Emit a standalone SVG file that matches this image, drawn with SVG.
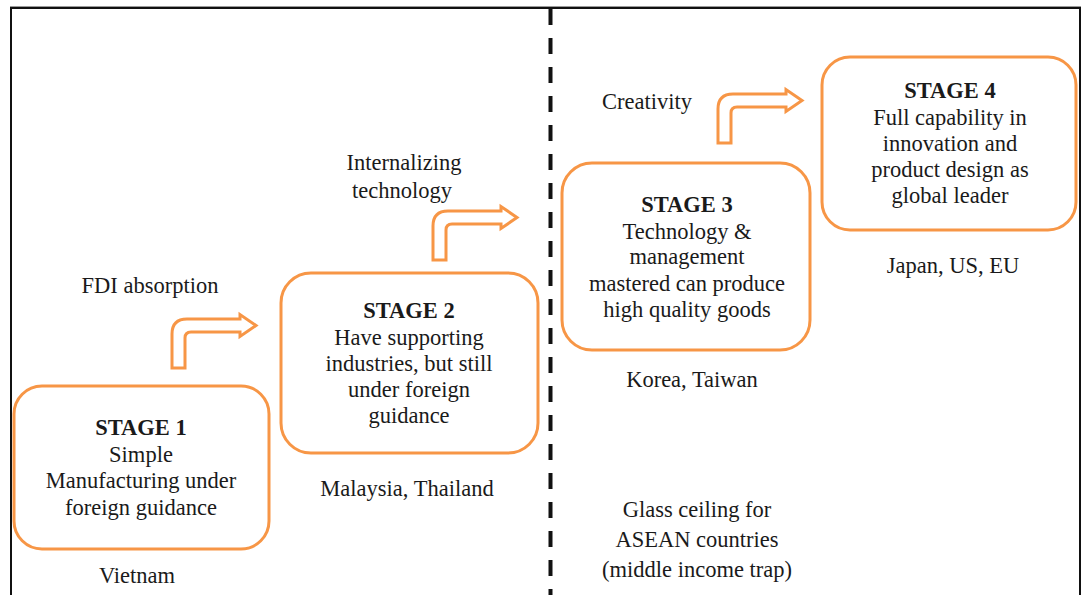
<svg xmlns="http://www.w3.org/2000/svg" xmlns:xlink="http://www.w3.org/1999/xlink" width="1084" height="595" viewBox="0 0 1084 595">
  <style>
    .frame { stroke: #111; stroke-width: 2; fill: none; }
    .divider { stroke: #111; stroke-width: 4; stroke-dasharray: 16 13; fill: none; }
    .stage { fill: #fff; stroke: #F79646; stroke-width: 3; }
    .step { fill: #fff; stroke: #F79646; stroke-width: 3; stroke-linejoin: miter; }
    .txt { font-family: "Liberation Serif", "Times New Roman", serif; font-size: 22.5px; fill: #1a1a1a; text-anchor: middle; }
    .title { font-weight: bold; }
  </style>
  <defs>
    <!-- hollow bent arrow: stem rising from (0,49), turning right, head tip at x=84 -->
    <path id="bentArrow" d="M0,49 V15 Q0,0 15,0 H68 V-4.5 L84,6.5 L68,17.5 V13 H19 Q13,13 13,19 V49 Z"/>
  </defs>

  <rect width="1084" height="595" fill="#fff"/>

  <!-- outer frame -->
  <g id="frame">
    <line x1="10" y1="6.5" x2="1081" y2="6.5" stroke="#9a9a9a" stroke-width="1"/>
    <polyline class="frame" points="11,595 11,8 1080,8 1080,595"/>
  </g>

  <!-- glass ceiling divider -->
  <line id="divider" class="divider" x1="550.5" y1="9" x2="550.5" y2="595"/>

  <!-- step arrows between stages -->
  <g id="connectors">
    <use xlink:href="#bentArrow" class="step" transform="translate(172,319)"/>
    <use xlink:href="#bentArrow" class="step" transform="translate(433,211)"/>
    <use xlink:href="#bentArrow" class="step" transform="translate(718,94)"/>
  </g>

  <g class="txt">
    <g id="stage1">
      <rect class="stage" x="14" y="386" width="255" height="163" rx="28"/>
      <text class="title" x="141" y="435">STAGE 1</text>
      <text x="141" y="461.5">Simple</text>
      <text x="141" y="488">Manufacturing under</text>
      <text x="141" y="514.5">foreign guidance</text>
    </g>

    <g id="stage2">
      <rect class="stage" x="281" y="273" width="257" height="180" rx="30"/>
      <text class="title" x="409" y="318">STAGE 2</text>
      <text x="409" y="345">Have supporting</text>
      <text x="409" y="371">industries, but still</text>
      <text x="409" y="397">under foreign</text>
      <text x="409" y="423">guidance</text>
    </g>

    <g id="stage3">
      <rect class="stage" x="562" y="163" width="248" height="187" rx="30"/>
      <text class="title" x="687" y="212">STAGE 3</text>
      <text x="687" y="238.5">Technology &amp;</text>
      <text x="687" y="264">management</text>
      <text x="687" y="290.5">mastered can produce</text>
      <text x="687" y="317">high quality goods</text>
    </g>

    <g id="stage4">
      <rect class="stage" x="822" y="57" width="254" height="173" rx="28"/>
      <text class="title" x="950" y="98">STAGE 4</text>
      <text x="950" y="124.5">Full capability in</text>
      <text x="950" y="150.5">innovation and</text>
      <text x="950" y="177">product design as</text>
      <text x="950" y="203">global leader</text>
    </g>

    <!-- transition labels -->
    <g id="labels">
      <text x="150" y="293">FDI absorption</text>
      <text x="404" y="170">Internalizing</text>
      <text x="402" y="198">technology</text>
      <text x="647" y="109">Creativity</text>
    </g>

    <!-- country groups -->
    <g id="countries">
      <text x="137" y="583">Vietnam</text>
      <text x="407" y="496">Malaysia, Thailand</text>
      <text x="692" y="387">Korea, Taiwan</text>
      <text x="953" y="273">Japan, US, EU</text>
    </g>

    <g id="glass-ceiling">
      <text x="697" y="517">Glass ceiling for</text>
      <text x="697" y="547">ASEAN countries</text>
      <text x="697" y="577">(middle income trap)</text>
    </g>
  </g>
</svg>
